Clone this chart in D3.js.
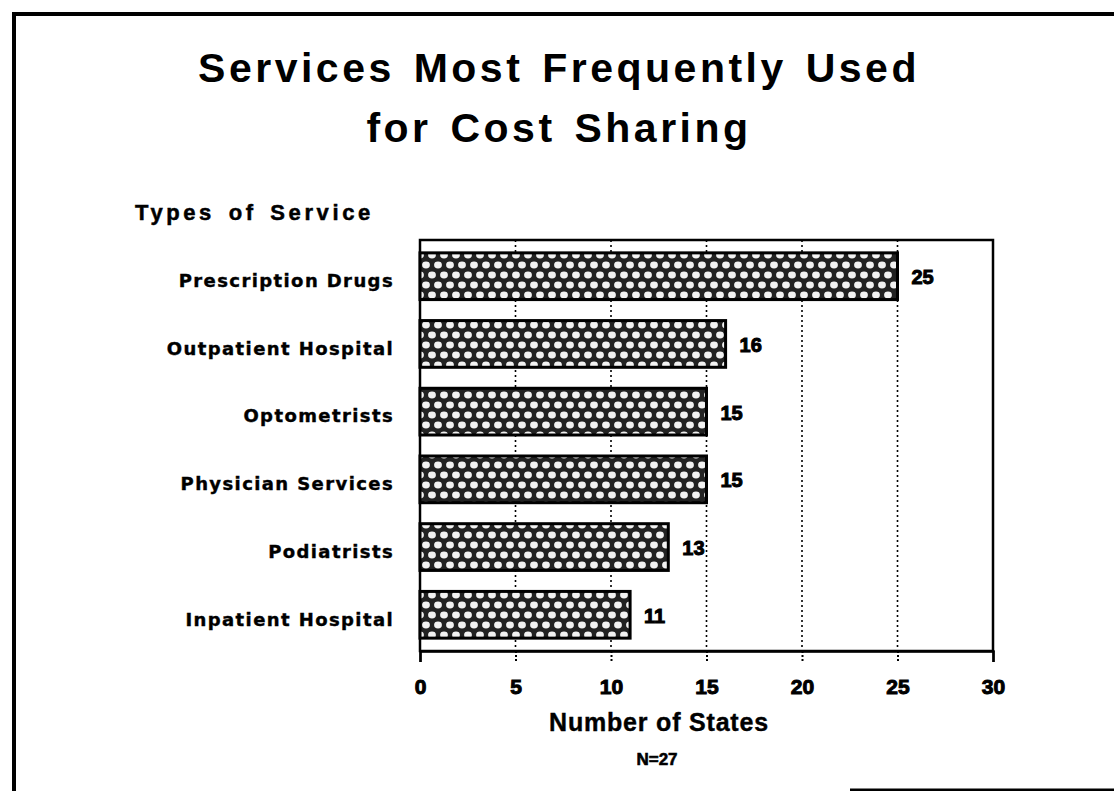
<!DOCTYPE html>
<html>
<head>
<meta charset="utf-8">
<script src="https://cdn.jsdelivr.net/npm/d3@7"></script>
<style>
    body { margin: 0; background: #fff; }
    text { fill: #000; }
</style>
</head>
<body>
<svg id="chart"></svg>
<script>
// Chart data
const categories = ["Prescription Drugs", "Outpatient Hospital", "Optometrists", "Physician Services", "Podiatrists", "Inpatient Hospital"];
const states = [25, 16, 15, 15, 13, 11];
const xTicks = [0, 5, 10, 15, 20, 25, 30];
const titleLines = ["Services Most Frequently Used", "for Cost Sharing"];

document.addEventListener("DOMContentLoaded", function () {
    const W = 1114, H = 791;
    const plot = { left: 420, right: 993, top: 240, bottom: 651 };

    const svg = d3.select("#chart")
        .attr("width", W)
        .attr("height", H);

    // crosshatch fill like the old print
    const defs = svg.append("defs");
    const pat = defs.append("pattern")
        .attr("id", "hatch")
        .attr("patternUnits", "userSpaceOnUse")
        .attr("width", 12)
        .attr("height", 20);
    pat.append("rect").attr("width", 12).attr("height", 20).attr("fill", "#222");
    [[6, 5], [0, 15], [12, 15]].forEach(p => {
        pat.append("ellipse")
            .attr("cx", p[0]).attr("cy", p[1])
            .attr("rx", 3.9).attr("ry", 3.4)
            .attr("fill", "#f2f2f2");
    });

    // page frame
    svg.append("line").attr("x1", 14).attr("y1", 12).attr("x2", 14).attr("y2", H)
        .attr("stroke", "#000").attr("stroke-width", 4);
    svg.append("line").attr("x1", 12).attr("y1", 14).attr("x2", W).attr("y2", 14)
        .attr("stroke", "#000").attr("stroke-width", 4);
    svg.append("line").attr("x1", 850).attr("y1", 790).attr("x2", W).attr("y2", 790)
        .attr("stroke", "#000").attr("stroke-width", 3);

    // title
    svg.append("g").selectAll("text")
        .data(titleLines)
        .enter().append("text")
        .attr("x", 559)
        .attr("y", (d, i) => 82 + i * 60)
        .attr("text-anchor", "middle")
        .style("font-family", "'Liberation Sans', Arial, sans-serif")
        .style("font-weight", "bold")
        .style("font-size", "41px")
        .style("letter-spacing", "3.5px")
        .style("word-spacing", "4px")
        .text(d => d);

    svg.append("text")
        .attr("x", 135)
        .attr("y", 220)
        .style("font-family", "'Liberation Sans', Arial, sans-serif")
        .style("font-weight", "bold")
        .style("font-size", "22px")
        .style("letter-spacing", "3.6px")
        .style("word-spacing", "4px")
        .style("stroke", "#000")
        .style("stroke-width", "0.5px")
        .text("Types of Service");

    // scales
    const x = d3.scaleLinear()
        .domain([0, 30])
        .range([plot.left, plot.right]);

    const y = d3.scaleBand()
        .domain(categories)
        .range([plot.top, plot.bottom])
        .paddingInner(0.31)
        .paddingOuter(0.19);

    // dotted grid lines
    svg.append("g").selectAll("line")
        .data(xTicks.slice(1, -1))
        .enter().append("line")
        .attr("x1", d => x(d)).attr("x2", d => x(d))
        .attr("y1", plot.top).attr("y2", plot.bottom)
        .attr("stroke", "#000")
        .attr("stroke-width", 1.6)
        .attr("stroke-dasharray", "2,3");

    // plot box
    svg.append("rect")
        .attr("x", plot.left).attr("y", plot.top)
        .attr("width", plot.right - plot.left)
        .attr("height", plot.bottom - plot.top)
        .attr("fill", "none")
        .attr("stroke", "#000")
        .attr("stroke-width", 2.5);

    // bars
    svg.selectAll(".bar")
        .data(states)
        .enter().append("rect")
        .attr("class", "bar")
        .attr("x", x(0))
        .attr("y", (d, i) => y(categories[i]))
        .attr("width", d => x(d) - x(0))
        .attr("height", y.bandwidth())
        .attr("fill", "url(#hatch)")
        .attr("stroke", "#000")
        .attr("stroke-width", 3);

    // value labels
    svg.selectAll(".val")
        .data(states)
        .enter().append("text")
        .attr("class", "val")
        .attr("x", d => x(d) + 14)
        .attr("y", (d, i) => y(categories[i]) + y.bandwidth() / 2 + 8)
        .style("font-family", "'Liberation Sans', Arial, sans-serif")
        .style("font-weight", "bold")
        .style("font-size", "20px")
        .style("stroke", "#000")
        .style("stroke-width", "1px")
        .text(d => d);

    // category axis
    const yAxis = svg.append("g")
        .attr("transform", "translate(" + (plot.left - 26) + ",0)")
        .call(d3.axisLeft(y).tickSize(0).tickPadding(0));
    yAxis.select(".domain").remove();
    yAxis.selectAll("text")
        .attr("dy", "0.6em")
        .style("font-family", "'DejaVu Sans', sans-serif")
        .style("font-weight", "bold")
        .style("font-size", "18px")
        .style("letter-spacing", "1.4px")
        .style("stroke", "#000")
        .style("stroke-width", "0.4px")
        .style("fill", "#000");

    // number axis
    const xAxis = svg.append("g")
        .attr("transform", "translate(0," + plot.bottom + ")")
        .call(d3.axisBottom(x).tickValues(xTicks).tickSize(11).tickPadding(17));
    xAxis.select(".domain").attr("stroke-width", 2.5);
    xAxis.selectAll(".tick line")
        .attr("stroke-width", 2)
        .attr("stroke-dasharray", d => (d === 0 || d === 30) ? null : "2,2");
    xAxis.selectAll("text")
        .style("font-family", "'Liberation Sans', Arial, sans-serif")
        .style("font-weight", "bold")
        .style("font-size", "21px")
        .style("stroke", "#000")
        .style("stroke-width", "1px")
        .style("fill", "#000");

    svg.append("text")
        .attr("x", 659)
        .attr("y", 731)
        .attr("text-anchor", "middle")
        .style("font-family", "'Liberation Sans', Arial, sans-serif")
        .style("font-weight", "bold")
        .style("font-size", "25px")
        .style("letter-spacing", "0.8px")
        .style("stroke", "#000")
        .style("stroke-width", "0.4px")
        .text("Number of States");

    svg.append("text")
        .attr("x", 657)
        .attr("y", 765)
        .attr("text-anchor", "middle")
        .style("font-family", "'Liberation Sans', Arial, sans-serif")
        .style("font-weight", "bold")
        .style("font-size", "17px")
        .style("stroke", "#000")
        .style("stroke-width", "0.6px")
        .text("N=27");
});
</script>
</body>
</html>
